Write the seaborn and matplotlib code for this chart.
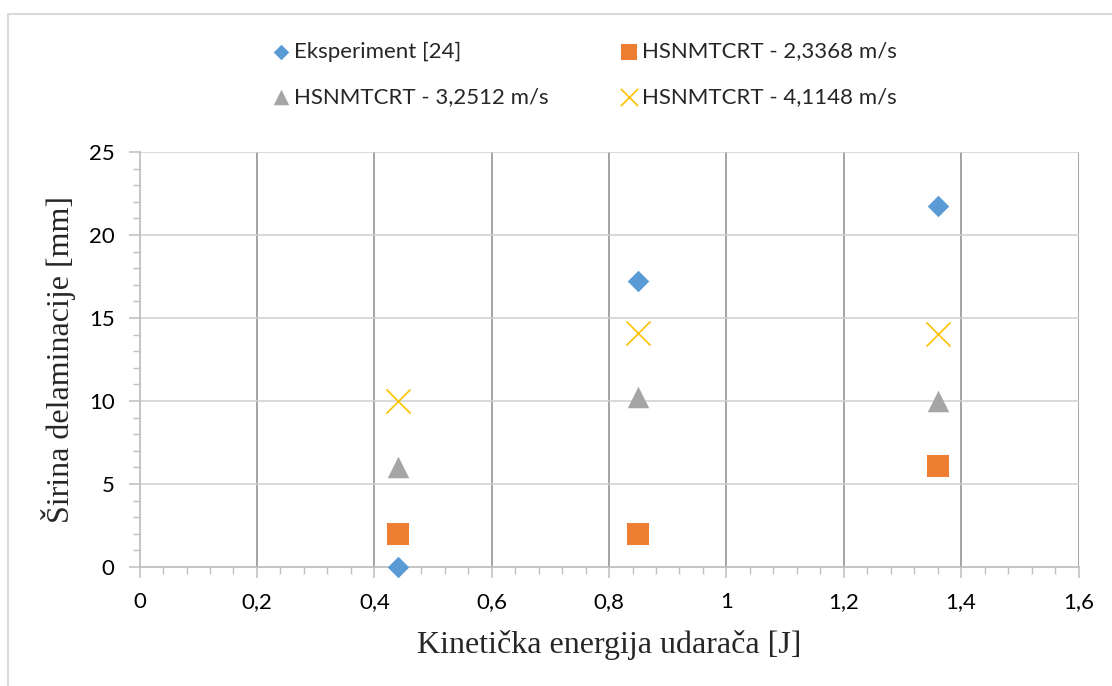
import matplotlib
matplotlib.use("Agg")
import matplotlib.pyplot as plt
from matplotlib.patches import Rectangle
from matplotlib.ticker import MultipleLocator, FuncFormatter
import seaborn as sns
import pandas as pd

# Kinetic energy of the impactor [J]
energy = [0.44, 0.85, 1.36]

# Delamination width [mm]
experiment = [0.0, 17.2, 21.75]
v_2_3368 = [2.0, 2.0, 6.1]
v_3_2512 = [6.0, 10.25, 10.0]
v_4_1148 = [10.0, 14.1, 14.05]

series_names = [
    "Eksperiment [24]",
    "HSNMTCRT - 2,3368 m/s",
    "HSNMTCRT - 3,2512 m/s",
    "HSNMTCRT - 4,1148 m/s",
]
series_values = [experiment, v_2_3368, v_3_2512, v_4_1148]

x_ticks = [0, 0.2, 0.4, 0.6, 0.8, 1.0, 1.2, 1.4, 1.6]
y_ticks = [0, 5, 10, 15, 20, 25]

df = pd.DataFrame(
    [(e, v, name) for name, vals in zip(series_names, series_values)
     for e, v in zip(energy, vals)],
    columns=["energy", "width", "series"],
)

sns.set_theme(style="white")
plt.rcParams["font.family"] = ["Lato", "DejaVu Sans"]

fig = plt.figure(figsize=(11.12, 6.86), dpi=100)
ax = fig.add_axes([139.6 / 1112, 1 - 567 / 686, (1078.5 - 139.6) / 1112, (567 - 152) / 686])

# outer chart frame
fig.patches.append(Rectangle((8 / 1112, -0.05), 1.2, 1 - 14 / 686 + 0.05,
                             transform=fig.transFigure, fill=False,
                             edgecolor="#d9d9d9", linewidth=1.5, zorder=0))

palette = {
    series_names[0]: "#5B9BD5",
    series_names[1]: "#ED7D31",
    series_names[2]: "#A5A5A5",
    series_names[3]: "#FFC000",
}
markers = {
    series_names[0]: "D",
    series_names[1]: "s",
    series_names[2]: "^",
    series_names[3]: "x",
}
sizes = {series_names[0]: 120, series_names[1]: 260,
         series_names[2]: 240, series_names[3]: 300}

for name in series_names:
    sub = df[df["series"] == name]
    kw = dict(linewidth=1.2) if markers[name] == "x" else dict(linewidth=0)
    sns.scatterplot(data=sub, x="energy", y="width", ax=ax, color=palette[name],
                    marker=markers[name], s=sizes[name], label=name,
                    zorder=3, clip_on=False, **kw)

ax.set_xlim(0, 1.6)
ax.set_ylim(0, 25)
ax.xaxis.set_major_locator(MultipleLocator(0.2))
ax.xaxis.set_minor_locator(MultipleLocator(0.04))
ax.yaxis.set_major_locator(MultipleLocator(5))
ax.yaxis.set_minor_locator(MultipleLocator(1))
ax.set_xticks(x_ticks)
ax.set_yticks(y_ticks)
ax.xaxis.set_major_formatter(FuncFormatter(lambda v, p: f"{v:g}".replace(".", ",")))
ax.yaxis.set_major_formatter(FuncFormatter(lambda v, p: f"{v:g}"))

ax.grid(False)
for xv in x_ticks[1:]:
    ax.axvline(xv, color="#8c8c8c", linewidth=1.1, zorder=1)
for yv in y_ticks[1:]:
    ax.axhline(yv, color="#d0d0d0", linewidth=1.1, zorder=1)

for side in ["left", "bottom"]:
    ax.spines[side].set_color("#bfbfbf")
    ax.spines[side].set_linewidth(1.3)
for side in ["top", "right"]:
    ax.spines[side].set_visible(False)

ax.tick_params(axis="both", which="major", direction="out", length=8, width=1.1,
               color="#bfbfbf", labelsize=16, labelcolor="black", pad=10)
ax.tick_params(axis="both", which="minor", direction="out", length=5, width=1.0,
               color="#bfbfbf")
ax.tick_params(axis="y", which="both", left=True)
ax.tick_params(axis="x", which="both", bottom=True)

ax.set_xlabel("Kinetička energija udarača [J]", fontsize=23,
              family=["Liberation Serif", "DejaVu Serif"], labelpad=13)
ax.set_ylabel("Širina delaminacije [mm]", fontsize=23,
              family=["Liberation Serif", "DejaVu Serif"])
ax.yaxis.set_label_coords(-0.068, 0.5)

handles, labels = ax.get_legend_handles_labels()
order = [0, 2, 1, 3]
leg = ax.legend([handles[i] for i in order], [labels[i] for i in order],
                ncol=2, loc="lower center", bbox_to_anchor=(0.472, 1.06),
                frameon=False, fontsize=16, handletextpad=0.0,
                columnspacing=3.1, labelspacing=1.15, markerscale=0.72,
                handlelength=1.1)

fig.savefig("out.png", dpi=100, facecolor="white")
